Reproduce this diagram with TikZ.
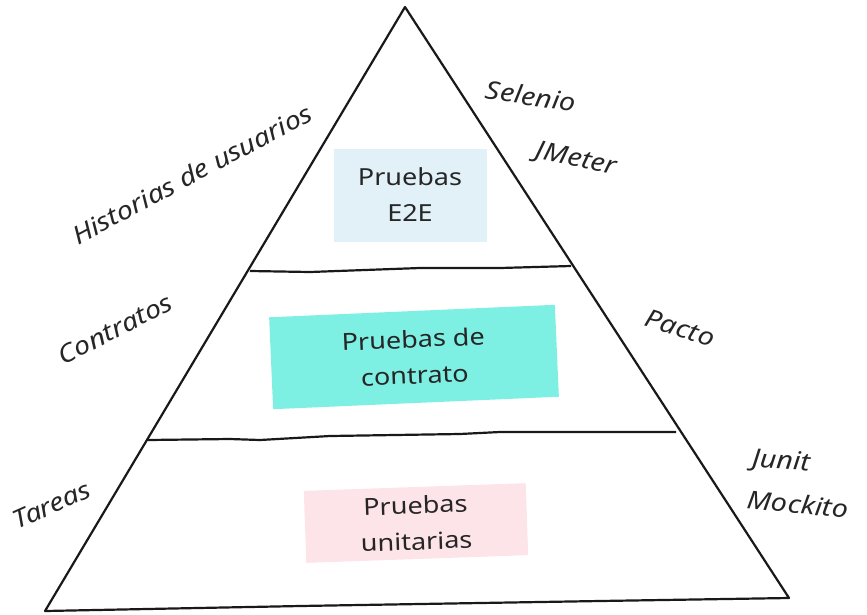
\documentclass[tikz,border=0pt]{standalone}
\usepackage{fontspec}
\setmainfont{Noto Sans}[FakeStretch=1.15]
\begin{document}
\begin{tikzpicture}[x=1pt,y=-1pt,
  outline/.style={line width=2.2pt, line join=round, draw=black!90},
  lbl/.style={font=\fontsize{25}{28}\selectfont\itshape, text=black!85, inner sep=0pt},
  boxtext/.style={font=\fontsize{23.5}{36}\selectfont, text=black!85, align=center},
  ]
\useasboundingbox (0,0) rectangle (867,614);
\definecolor{etoe}{HTML}{E2F1F8}
\definecolor{contr}{HTML}{7EF0E3}
\definecolor{unit}{HTML}{FCE4E8}
% boxes
\node[boxtext, fill=etoe, minimum width=153pt, minimum height=93pt] (e2e) at (410,195) {Pruebas\\E2E};
\node[boxtext, fill=contr, minimum width=286pt, minimum height=92pt, rotate=2.5] (contrato) at (414,357) {Pruebas de\\contrato};
\node[boxtext, fill=unit, minimum width=222pt, minimum height=72pt, rotate=2] (unitarias) at (416,523) {Pruebas\\unitarias};
% pyramid
\draw[outline] (405,7) -- (45,611) -- (300,606) -- (600,601) -- (789,598) -- cycle;
\draw[outline] (250,271) -- (310,272) -- (420,268) -- (500,268) -- (571,266);
\draw[outline] (148,440) -- (230,439) -- (260,440) -- (330,436) -- (460,434) -- (500,432) -- (676,432);
% left labels
\node[lbl, rotate=28] (hist) at (192,174) {Historias de usuarios};
\node[lbl, rotate=27] (contratos) at (115,329) {Contratos};
\node[lbl, rotate=24] (tareas) at (52,505) {Tareas};
% right labels
\node[lbl, rotate=-8] (selenio) at (531,96) {Selenio};
\node[lbl, rotate=-12] (jmeter) at (576,160) {JMeter};
\node[lbl, rotate=-17] (pacto) at (680,328) {Pacto};
\node[lbl, rotate=-4] (junit) at (781,462) {Junit};
\node[lbl, rotate=-6] (mockito) at (798,504) {Mockito};
\end{tikzpicture}
\end{document}
